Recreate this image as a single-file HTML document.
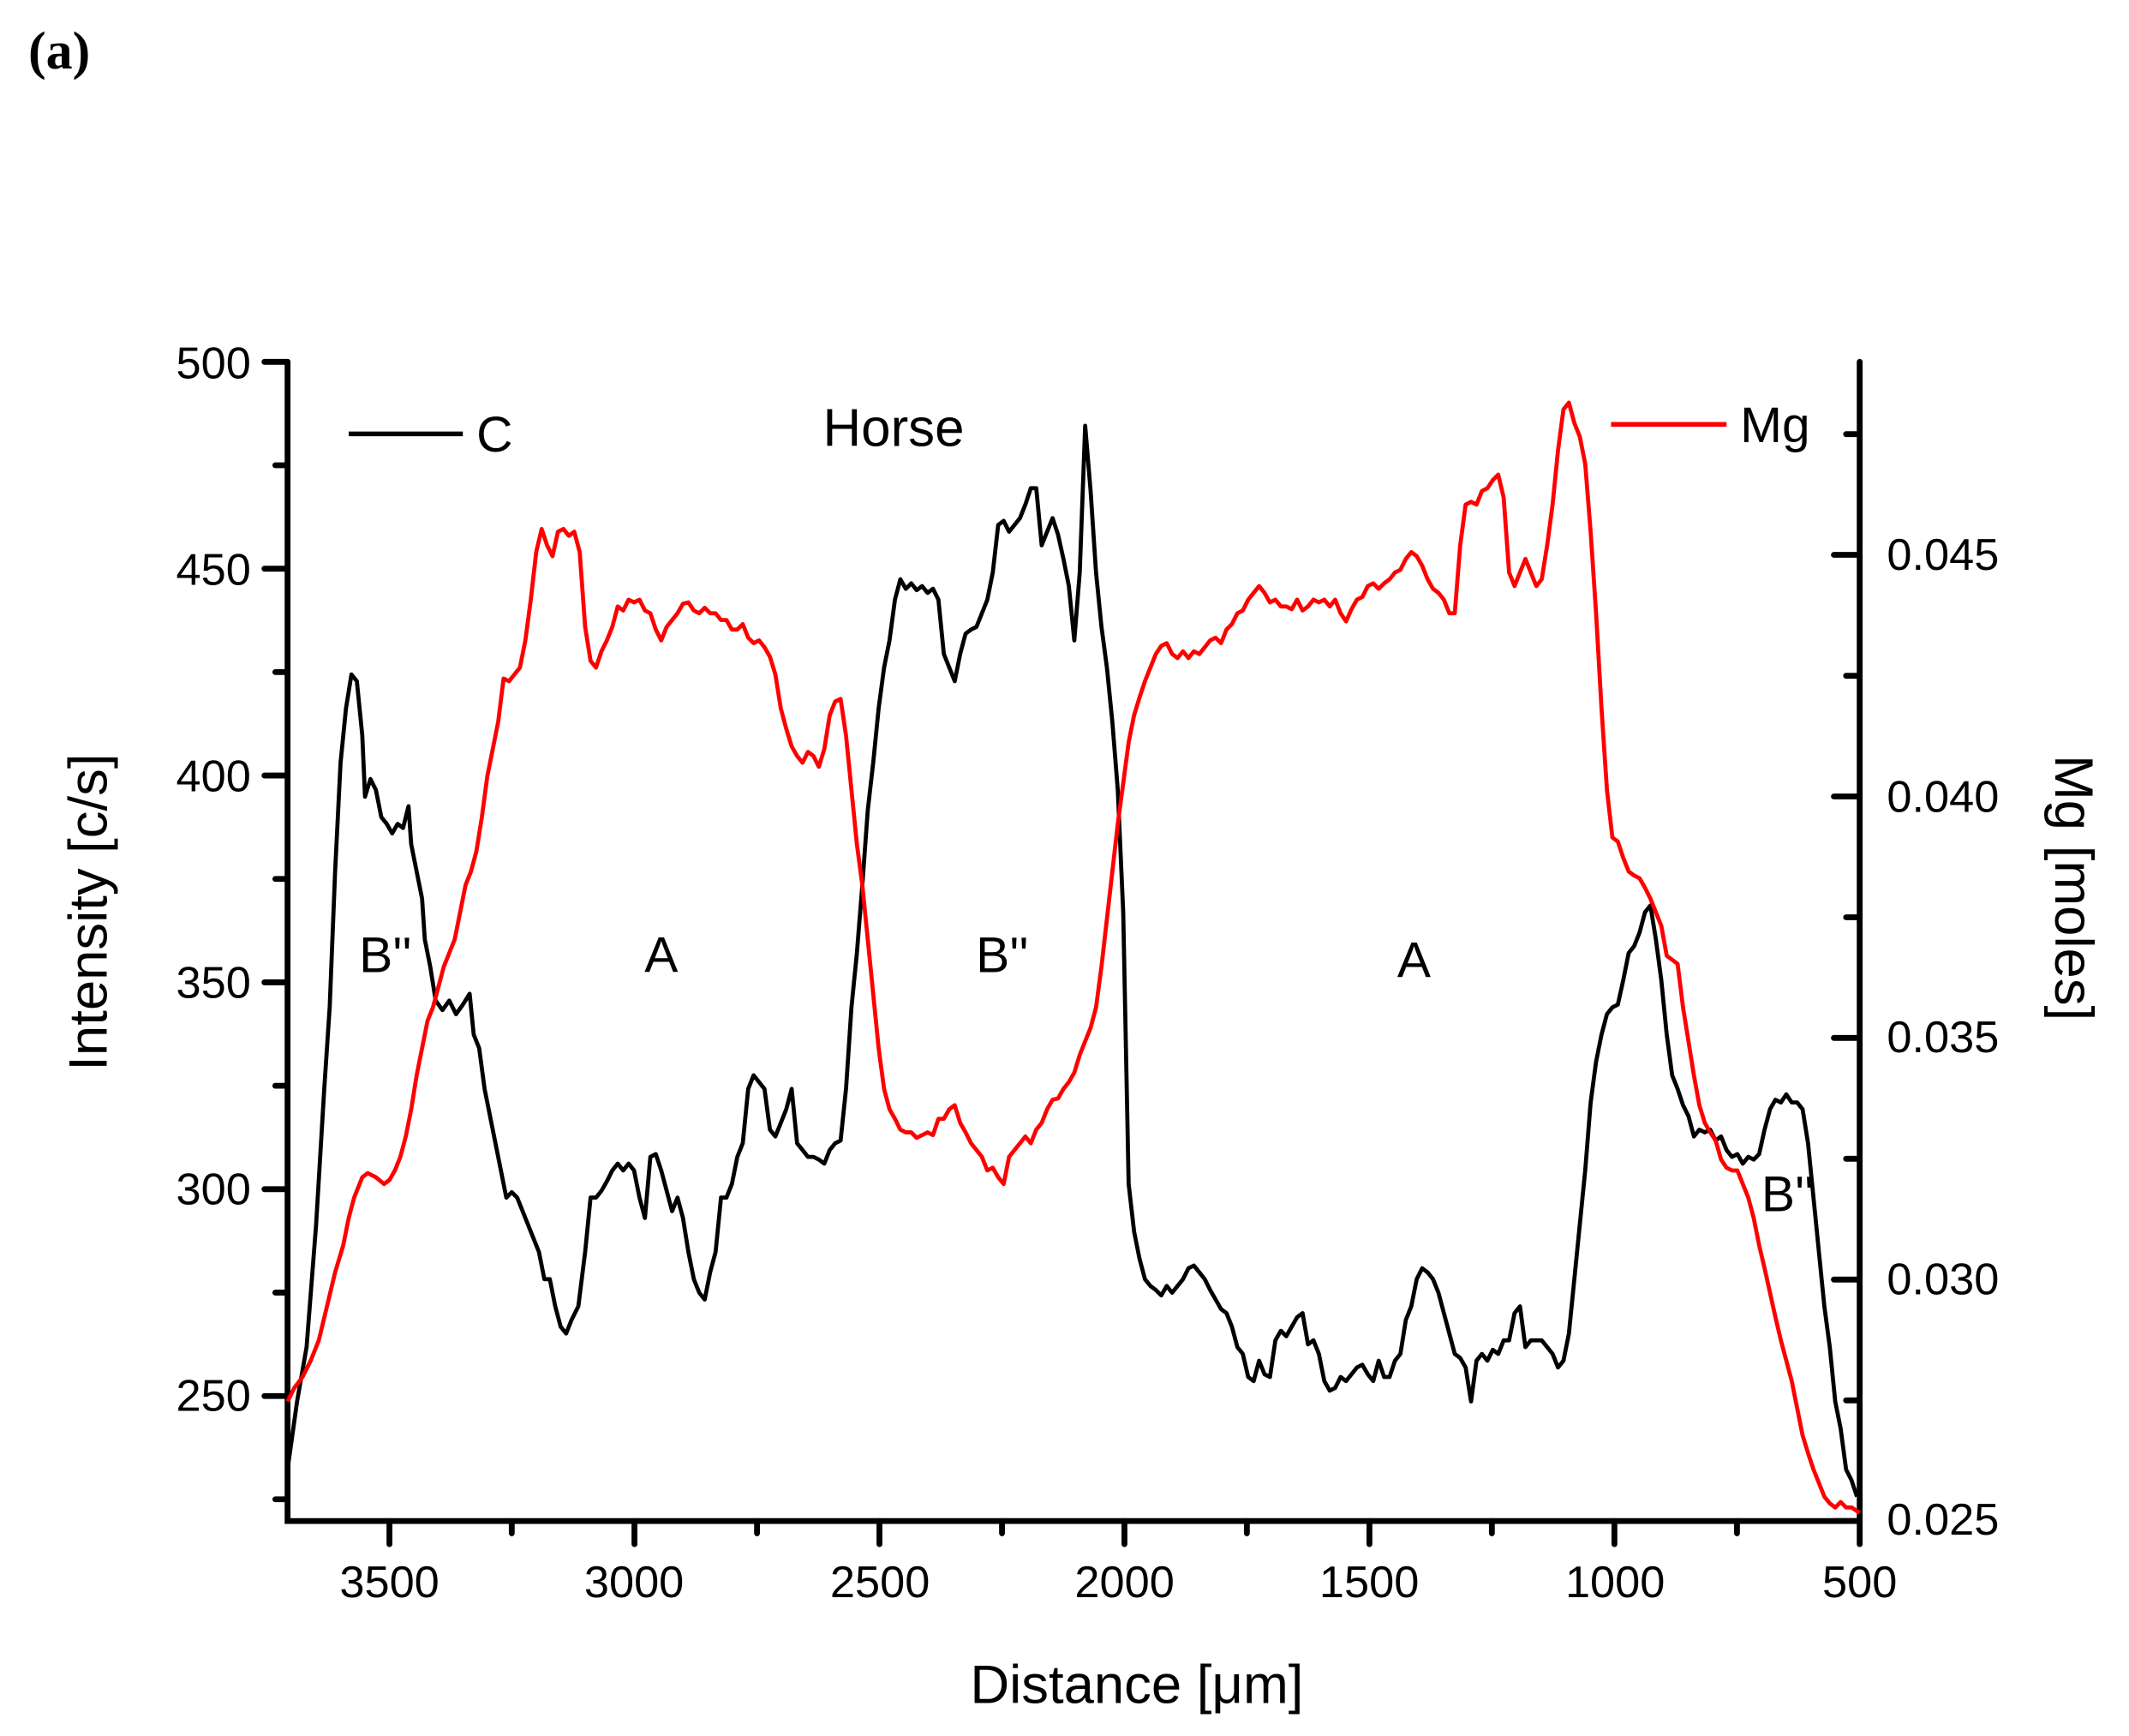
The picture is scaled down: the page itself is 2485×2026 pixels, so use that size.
<!DOCTYPE html>
<html><head><meta charset="utf-8"><style>html,body{margin:0;padding:0;background:#fff}svg{display:block}</style></head>
<body>
<svg width="2485" height="2026" viewBox="0 0 2485 2026" xmlns="http://www.w3.org/2000/svg" font-family="Liberation Sans, sans-serif">
<rect width="2485" height="2026" fill="#fff"/>
<text x="33" y="80" font-family="Liberation Serif, serif" font-weight="bold" font-size="62">(a)</text>
<g transform="translate(1,2) scale(1.586)">
<g stroke="#000" stroke-width="4.3" stroke-linecap="round" fill="none">
<path d="M211,265 V1118 H1368 V265"/>
<path d="M211,265 h-17 M211,417.2 h-17 M211,569.4 h-17 M211,721.6 h-17 M211,873.8 h-17 M211,1026 h-17"/>
<path d="M211,341.1 h-9 M211,493.3 h-9 M211,645.5 h-9 M211,797.7 h-9 M211,949.9 h-9 M211,1102 h-9"/>
<path d="M1368,407 h-19 M1368,584.8 h-19 M1368,762.5 h-19 M1368,940.3 h-19 M1368,1118 h-19"/>
<path d="M1368,318.2 h-10 M1368,496 h-10 M1368,673.7 h-10 M1368,851.4 h-10 M1368,1029.2 h-10"/>
<path d="M286,1118 v17 M466.3,1118 v17 M646.6,1118 v17 M826.9,1118 v17 M1007.2,1118 v17 M1187.5,1118 v17 M1368,1118 v17"/>
<path d="M376,1118 v9 M556.5,1118 v9 M736.8,1118 v9 M917,1118 v9 M1097.3,1118 v9 M1277.7,1118 v9"/>
</g>
<g font-size="33" text-anchor="end">
<text x="184" y="277">500</text><text x="184" y="429">450</text><text x="184" y="581">400</text>
<text x="184" y="733">350</text><text x="184" y="885">300</text><text x="184" y="1037">250</text>
</g>
<g font-size="33" text-anchor="start">
<text x="1388" y="418">0.045</text><text x="1388" y="596">0.040</text><text x="1388" y="773">0.035</text>
<text x="1388" y="951">0.030</text><text x="1388" y="1128">0.025</text>
</g>
<g font-size="33" text-anchor="middle">
<text x="286" y="1174">3500</text><text x="466" y="1174">3000</text><text x="647" y="1174">2500</text>
<text x="827" y="1174">2000</text><text x="1007" y="1174">1500</text><text x="1188" y="1174">1000</text><text x="1368" y="1174">500</text>
</g>
<text x="836" y="1252" font-size="40" text-anchor="middle">Distance [μm]</text>
<text transform="translate(78,670) rotate(-90)" font-size="40" text-anchor="middle">Intensity [c/s]</text>
<text transform="translate(1512,652) rotate(90)" font-size="40" text-anchor="middle">Mg [moles]</text>
<text x="657" y="327" font-size="39" text-anchor="middle">Horse</text>
<line x1="256" y1="318" x2="340" y2="318" stroke="#000" stroke-width="3.5"/>
<text x="350" y="331" font-size="37">C</text>
<line x1="1185" y1="311" x2="1270" y2="311" stroke="#f00" stroke-width="3.5"/>
<text x="1280" y="324" font-size="37">Mg</text>
<g font-size="37" text-anchor="middle">
<text x="283" y="714">B''</text><text x="486" y="714">A</text><text x="737" y="714">B''</text>
<text x="1040" y="718">A</text><text x="1315" y="890">B''</text>
</g>
<polyline fill="none" stroke="#000" stroke-width="3" stroke-linejoin="round" points="211,1080 218,1030 225,990 232,900 238,800 242,740 246,640 250,560 254,520 258,495 262,500 266,540 268,585 272,572 276,580 280,600 284,605 288,612 292,605 296,608 300,592 302,620 306,640 310,660 312,690 316,710 320,735 325,742 330,735 335,745 340,738 345,730 348,760 352,770 356,800 360,820 364,840 368,860 372,880 376,876 380,880 386,895 392,910 396,920 400,940 404,940 408,960 412,975 416,980 420,970 425,960 430,920 434,880 438,880 442,875 446,868 450,860 454,855 458,860 462,855 466,860 470,880 474,895 478,850 482,848 486,860 490,875 494,890 498,880 502,895 506,920 510,940 514,950 518,955 522,935 526,920 530,880 534,880 538,870 542,850 546,840 550,800 554,790 558,795 562,800 566,830 570,835 574,825 578,815 582,800 586,840 590,845 594,850 598,850 602,852 606,855 610,845 614,840 618,838 622,800 626,740 630,700 634,650 638,595 642,560 646,520 650,490 654,470 658,440 662,425 666,432 670,428 674,433 678,430 682,435 686,432 690,440 694,480 698,490 702,500 706,480 710,465 714,462 718,460 722,450 726,440 730,420 734,385 738,382 742,390 746,385 750,380 754,370 758,358 762,358 766,400 770,390 774,380 778,392 782,410 786,430 790,470 794,420 798,312 802,360 806,420 810,460 814,490 818,530 822,580 826,670 830,870 834,905 838,925 842,940 846,945 850,948 854,952 858,945 862,950 866,945 870,940 874,932 878,930 882,935 886,940 890,948 894,955 898,962 902,965 906,975 910,990 914,995 918,1012 922,1015 926,1000 930,1010 934,1012 938,985 942,978 946,982 950,975 954,968 958,965 962,988 966,985 970,995 974,1015 978,1022 982,1020 986,1012 990,1015 994,1010 998,1005 1002,1003 1006,1010 1010,1015 1014,1000 1018,1012 1022,1012 1026,1000 1030,995 1034,970 1038,960 1042,940 1046,932 1050,935 1054,940 1058,950 1062,965 1066,980 1070,995 1074,998 1078,1005 1082,1030 1086,1000 1090,995 1094,1000 1098,992 1102,995 1106,985 1110,985 1114,965 1118,960 1122,990 1126,985 1130,985 1134,985 1138,990 1142,995 1146,1005 1150,1000 1154,980 1158,940 1162,900 1166,860 1170,810 1174,780 1178,760 1182,745 1186,740 1190,738 1194,720 1198,700 1202,695 1206,685 1210,670 1214,665 1218,690 1222,720 1226,760 1230,790 1234,800 1238,812 1242,820 1246,835 1250,830 1254,832 1258,830 1262,838 1266,835 1270,845 1274,850 1278,848 1282,855 1286,850 1290,852 1294,848 1298,830 1302,815 1306,808 1310,810 1314,804 1318,810 1322,810 1326,815 1330,840 1334,880 1338,920 1342,960 1346,990 1350,1030 1354,1050 1358,1080 1362,1088 1366,1100"/>
<polyline fill="none" stroke="#f00" stroke-width="3" stroke-linejoin="round" points="211,1030 216,1020 222,1012 228,1000 234,985 240,960 246,935 252,915 256,895 260,880 266,865 270,862 276,865 282,870 286,867 290,860 294,850 298,835 302,815 306,790 310,770 314,750 318,740 322,725 326,710 330,700 334,690 338,670 342,650 346,640 350,625 354,600 358,570 362,550 366,530 370,498 374,500 378,495 382,490 386,470 390,440 394,405 398,388 402,400 406,408 410,390 414,388 418,393 422,390 426,405 430,460 434,485 438,490 442,478 446,470 450,460 454,445 458,448 462,440 466,442 470,440 474,448 478,450 482,462 486,470 490,460 494,455 498,450 502,443 506,442 510,448 514,450 518,446 522,450 526,450 530,455 534,455 538,462 542,462 546,458 550,468 554,472 558,470 562,475 566,482 570,495 574,520 578,535 582,548 586,555 590,560 594,552 598,555 602,563 606,550 610,525 614,515 618,513 622,540 626,580 630,620 634,650 638,690 642,730 646,770 650,800 654,815 658,822 662,830 666,832 670,832 674,836 678,834 682,832 686,834 690,822 694,822 698,815 702,812 706,825 710,832 714,840 718,845 722,850 726,860 730,858 734,865 738,870 742,850 746,845 750,840 754,835 758,840 762,830 766,825 770,815 774,808 778,807 782,800 786,795 790,788 794,775 798,765 802,755 806,740 810,710 814,675 818,640 822,605 826,575 830,545 834,525 838,512 842,500 846,490 850,480 854,474 858,472 862,480 866,483 870,478 874,483 878,478 882,480 886,475 890,470 894,468 898,472 902,462 906,458 910,450 914,448 918,440 922,435 926,430 930,435 934,442 938,440 942,445 946,445 950,447 954,440 958,448 962,445 966,440 970,442 974,440 978,445 982,440 986,450 990,456 994,447 998,440 1002,438 1006,430 1010,428 1014,432 1018,428 1022,425 1026,420 1030,418 1034,410 1038,405 1042,408 1046,415 1050,425 1054,432 1058,435 1062,440 1066,450 1070,450 1074,400 1078,370 1082,368 1086,370 1090,360 1094,358 1098,352 1102,348 1106,365 1110,420 1114,430 1118,420 1122,410 1126,420 1130,430 1134,425 1138,400 1142,370 1146,330 1150,300 1154,295 1158,310 1162,320 1166,340 1170,390 1174,450 1178,520 1182,580 1186,615 1190,618 1194,630 1198,640 1202,643 1206,645 1210,652 1214,660 1218,670 1222,680 1226,702 1230,705 1234,708 1238,740 1242,765 1246,790 1250,812 1254,825 1258,832 1262,838 1266,852 1270,858 1274,860 1278,860 1282,870 1286,880 1290,895 1294,915 1298,932 1302,950 1306,968 1310,985 1314,1000 1318,1015 1322,1035 1326,1055 1330,1068 1334,1080 1338,1090 1342,1100 1346,1105 1350,1108 1354,1104 1358,1108 1362,1108 1368,1112"/>
</g>
</svg>
</body></html>
